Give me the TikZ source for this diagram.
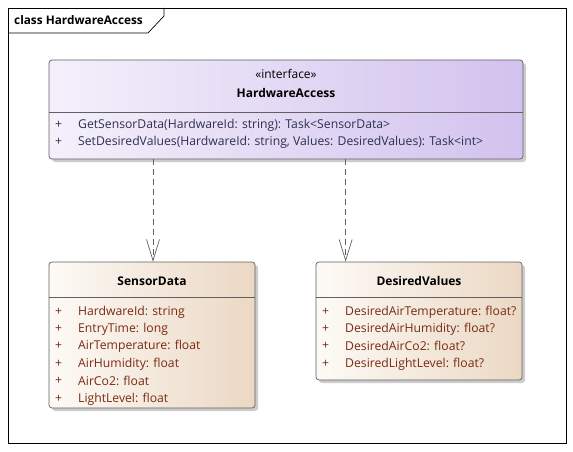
\documentclass[tikz,border=0pt]{standalone}
\usepackage{fontspec}
\setmainfont{Open Sans}
\usetikzlibrary{arrows.meta}
\definecolor{ifL}{HTML}{F4F0FB}
\definecolor{ifR}{HTML}{D2C2EE}
\definecolor{clL}{HTML}{FDFAF6}
\definecolor{clR}{HTML}{EBD8C4}
\definecolor{attr}{HTML}{7A2A12}
\definecolor{oper}{HTML}{2E3050}
\definecolor{edge}{HTML}{606060}
\tikzset{
  shadowbox/.style={fill=black!20, draw=none, rounded corners=3pt},
  ifbox/.style={draw=edge, line width=0.7pt, rounded corners=3pt, left color=ifL, right color=ifR, inner sep=0pt},
  clbox/.style={draw=edge, line width=0.7pt, rounded corners=3pt, left color=clL, right color=clR, inner sep=0pt},
  sep/.style={draw=edge, line width=0.6pt},
  txt/.style={font=\fontsize{12.2}{14}\selectfont, inner sep=0pt, anchor=west},
  ttl/.style={font=\fontsize{12}{14}\selectfont\bfseries, inner sep=0pt},
  optxt/.style={txt, text=oper},
  attxt/.style={txt, text=attr},
  realize/.style={draw=edge, line width=0.7pt, dash pattern=on 6pt off 4pt, -{Straight Barb[length=21pt,width=13pt,line width=0.7pt]}}
}
\begin{document}
\begin{tikzpicture}[x=1pt,y=-1pt]
\useasboundingbox (0,0) rectangle (573,452);
% frame
\draw[black, line width=0.7pt] (8,8) rectangle (566,443);
\draw[black, line width=0.7pt] (8,33) -- (148,33) -- (164,16) -- (164,8);
\node[txt, font=\fontsize{11.8}{14}\selectfont\bfseries, text=black] (frametitle) at (14,20) {class HardwareAccess};

% shadows
\fill[shadowbox] (52,63) rectangle (526,162);
\fill[shadowbox] (52,265) rectangle (258,411);
\fill[shadowbox] (319,265) rectangle (525,383);

% HardwareAccess
\node[ifbox, minimum width=474pt, minimum height=99pt] (ha) at (286,109.5) {};
\draw[sep] (49,112) -- (523,112);
\node[inner sep=0pt, font=\fontsize{12}{14}\selectfont] (hast) at (286,74) {«interface»};
\node[ttl] (haname) at (286,93) {HardwareAccess};
\node[optxt] (hap1) at (55,125) {+};
\node[optxt] (hao1) at (78,125) {GetSensorData(HardwareId: string): Task<SensorData>};
\node[optxt] (hap2) at (55,142) {+};
\node[optxt] (hao2) at (78,142) {SetDesiredValues(HardwareId: string, Values: DesiredValues): Task<int>};

% SensorData
\node[clbox, minimum width=206pt, minimum height=146pt] (sd) at (152,335) {};
\draw[sep] (49,297) -- (255,297);
\node[ttl] (sdname) at (152,281) {SensorData};
\node[attxt] (sdp1) at (55,312) {+};
\node[attxt] (sda1) at (78,312) {HardwareId: string};
\node[attxt] (sdp2) at (55,329) {+};
\node[attxt] (sda2) at (78,329) {EntryTime: long};
\node[attxt] (sdp3) at (55,346) {+};
\node[attxt] (sda3) at (78,346) {AirTemperature: float};
\node[attxt] (sdp4) at (55,364) {+};
\node[attxt] (sda4) at (78,364) {AirHumidity: float};
\node[attxt] (sdp5) at (55,381) {+};
\node[attxt] (sda5) at (78,381) {AirCo2: float};
\node[attxt] (sdp6) at (55,399) {+};
\node[attxt] (sda6) at (78,399) {LightLevel: float};

% DesiredValues
\node[clbox, minimum width=206pt, minimum height=118pt] (dv) at (419,321) {};
\draw[sep] (316,297) -- (522,297);
\node[ttl] (dvname) at (419,281) {DesiredValues};
\node[attxt] (dvp1) at (322,312) {+};
\node[attxt] (dva1) at (345,312) {DesiredAirTemperature: float?};
\node[attxt] (dvp2) at (322,329) {+};
\node[attxt] (dva2) at (345,329) {DesiredAirHumidity: float?};
\node[attxt] (dvp3) at (322,346) {+};
\node[attxt] (dva3) at (345,346) {DesiredAirCo2: float?};
\node[attxt] (dvp4) at (322,364) {+};
\node[attxt] (dva4) at (345,364) {DesiredLightLevel: float?};

% connectors
\coordinate (sdtop) at ([xshift=1pt]sd.north);
\coordinate (dvtop) at ([xshift=30pt]dv.north west);
\draw[realize] (ha.south -| sdtop) -- (sdtop);
\draw[realize] (ha.south -| dvtop) -- (dvtop);
\end{tikzpicture}
\end{document}
